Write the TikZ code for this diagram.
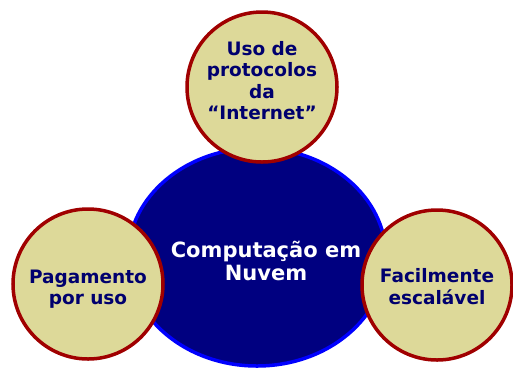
\documentclass[tikz,border=0pt]{standalone}
\usepackage{fontspec}
\setmainfont{DejaVu Sans}
\usepackage{tikz}
\usetikzlibrary{shapes.geometric, positioning}
\definecolor{navyfill}{RGB}{0,0,128}
\definecolor{navytext}{RGB}{0,0,110}
\definecolor{khaki}{RGB}{221,217,153}
\definecolor{darkred}{RGB}{160,0,0}
\tikzstyle{core} = [ellipse, minimum width=258pt, minimum height=218pt, inner sep=0pt, draw=blue, line width=3.5pt, fill=navyfill]
\tikzstyle{coretext} = [text=white, align=center, font=\bfseries\fontsize{21}{23.5}\selectfont]
\tikzstyle{feature} = [circle, minimum size=150pt, inner sep=0pt, draw=darkred, line width=3.5pt, fill=khaki]
\tikzstyle{featuretext} = [text=navytext, align=center, font=\bfseries\fontsize{18.5}{21.3}\selectfont]

\begin{document}
\begin{tikzpicture}[x=1pt, y=-1pt]
\useasboundingbox (0,0) rectangle (513,368);

% Nodes
\node (nuvem) [core, label={[coretext, xshift=9pt, yshift=-4pt]center:Computação em\\Nuvem}] at (257,257) {};

\node (protocolos) [feature, label={[featuretext, yshift=6.5pt]center:Uso de\\protocolos\\da\\“Internet”}] at (262,87) {};

\node (pagamento) [feature, label={[featuretext, yshift=-5pt]center:Pagamento\\por uso}] at (88,284) {};

\node (escalavel) [feature, label={[featuretext, yshift=-1.5pt]center:Facilmente\\escalável}] at (437,285) {};

\end{tikzpicture}
\end{document}
